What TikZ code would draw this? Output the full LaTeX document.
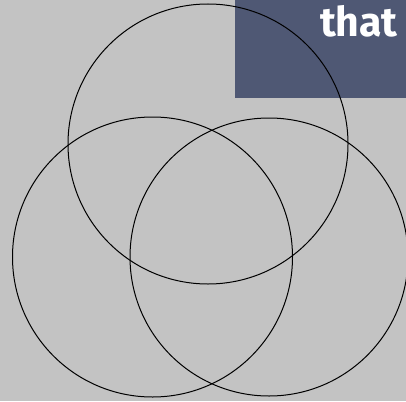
\documentclass[tikz,border=0pt]{standalone}
\usepackage{fontspec}
\newfontfamily\labelfont{Fira Sans}
\definecolor{bgcol}{HTML}{C3C3C3}
\definecolor{boxcol}{HTML}{4F5874}
\begin{document}
\begin{tikzpicture}[x=1pt,y=-1pt,
  ring/.style={draw=black,line width=1pt}]
\fill[bgcol] (0,0) rectangle (406,401);
\useasboundingbox (0,0) rectangle (406,401);
\fill[boxcol] (235,0) rectangle (406,98);
\node[anchor=base east,inner sep=0pt,text=white,font=\labelfont\bfseries\fontsize{41}{45}\selectfont] (title) at (398,37) {that};
\draw[ring] (208,144) circle (140);
\draw[ring] (152.5,257) circle (140);
\draw[ring] (269,257) circle (139);
\end{tikzpicture}
\end{document}
